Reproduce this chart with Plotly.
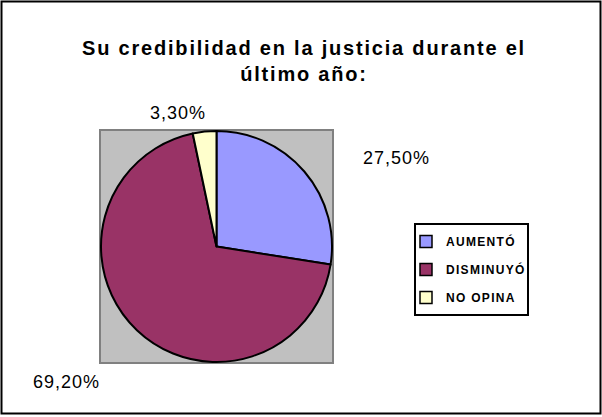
import plotly.graph_objects as go

W, H = 602, 417

categories = ["AUMENTÓ", "DISMINUYÓ", "NO OPINA"]
values = [27.5, 69.2, 3.3]
colors = ["#9999FF", "#993366", "#FFFFCC"]
title_lines = ["Su credibilidad en la justicia durante el", "último año:"]

def px_x(x):
    return x / W

def px_y(y):
    return 1 - y / H

def spaced(s, ls):
    return f'<span style="letter-spacing:{ls}px">{s}</span>'

# pie square region in pixels
PX0, PX1, PY0, PY1 = 101, 332, 131, 362
# legend frame in pixels
LX0, LX1, LY0, LY1 = 415, 528, 224, 315

fig = go.Figure()
fig.add_trace(go.Pie(
    labels=categories, values=values, sort=False, direction="clockwise",
    rotation=0, marker=dict(colors=colors, line=dict(color="black", width=2)),
    textinfo="none", hoverinfo="label+percent", showlegend=False,
    domain=dict(x=[px_x(PX0), px_x(PX1)], y=[px_y(PY1), px_y(PY0)]),
))

# legend entries drawn from the same data
for cat, col in zip(categories, colors):
    fig.add_trace(go.Scatter(
        x=[None], y=[None], mode="markers", name=spaced(cat, 1.3), legendgroup=cat,
        marker=dict(symbol="square", size=12, color=col,
                    line=dict(color="black", width=1.5)),
    ))

# value labels
label_pos = [(396, 158), (66, 382), (178, 113)]
for v, (lx, ly) in zip(values, label_pos):
    fig.add_annotation(
        x=px_x(lx), y=px_y(ly), xref="paper", yref="paper",
        text=spaced(f"{v:.2f}%".replace(".", ","), 1),
        showarrow=False,
        font=dict(family="Liberation Sans, Arial", size=18, color="black"),
        xanchor="center", yanchor="middle",
    )

fig.update_layout(
    width=W, height=H,
    margin=dict(l=0, r=0, t=0, b=0),
    paper_bgcolor="white", plot_bgcolor="white",
    xaxis=dict(visible=False, domain=[0, 1]),
    yaxis=dict(visible=False, domain=[0, 1]),
    title=dict(text="<br>".join(spaced(t, 1.8) for t in title_lines),
               x=px_x(304), xanchor="center", y=px_y(55), yanchor="top",
               font=dict(family="Liberation Sans, Arial", size=20, color="black", weight="bold")),
    legend=dict(x=px_x(406), y=px_y(LY0 + 3), xanchor="left", yanchor="top",
                borderwidth=0, bgcolor="rgba(0,0,0,0)",
                tracegroupgap=9, traceorder="grouped",
                font=dict(family="Liberation Sans, Arial", size=12, color="black", weight="bold")),
    showlegend=True,
    shapes=[
        dict(type="rect", xref="paper", yref="paper",
             x0=px_x(PX0 - 1), x1=px_x(PX1 + 1), y0=px_y(PY1 + 1), y1=px_y(PY0 - 1),
             fillcolor="#C0C0C0", line=dict(color="#808080", width=2), layer="below"),
        dict(type="rect", xref="paper", yref="paper",
             x0=px_x(LX0), x1=px_x(LX1), y0=px_y(LY1), y1=px_y(LY0),
             fillcolor="white", line=dict(color="black", width=2), layer="below"),
        dict(type="rect", xref="paper", yref="paper",
             x0=px_x(1.5), x1=px_x(600.5), y0=px_y(413.5), y1=px_y(1.5),
             fillcolor="rgba(0,0,0,0)", line=dict(color="black", width=2), layer="above"),
    ],
)

fig.write_html("out.html", post_script="document.body.style.margin='0';",
               config={"displayModeBar": False})
